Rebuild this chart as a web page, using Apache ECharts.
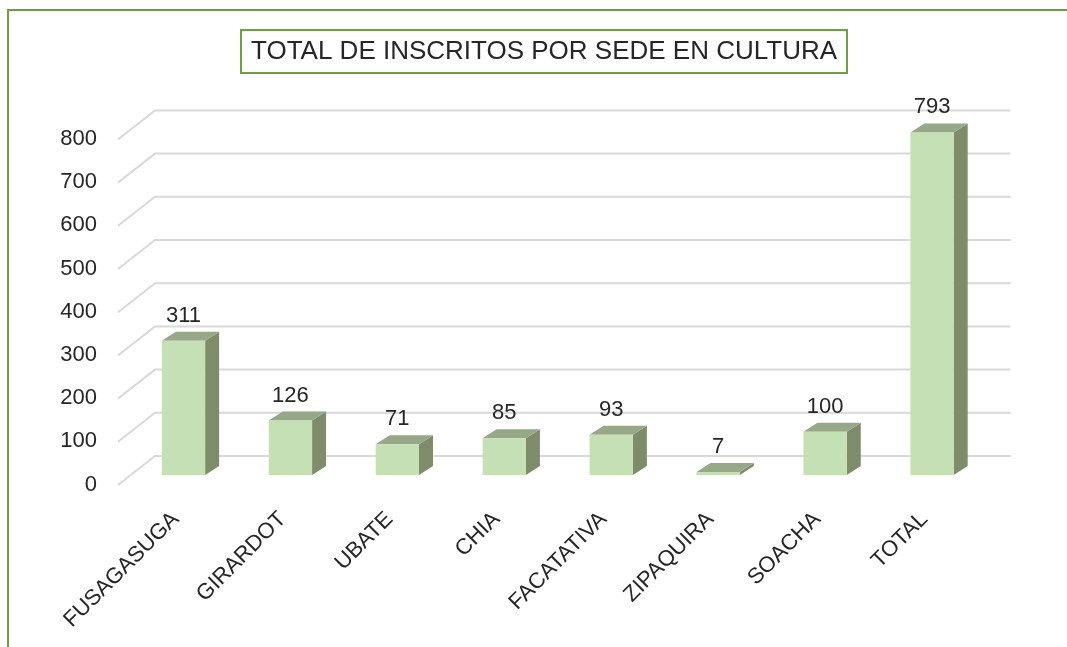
<!DOCTYPE html>
<html>
<head>
<meta charset="utf-8">
<script src="https://cdn.jsdelivr.net/npm/echarts@6/dist/echarts.min.js"></script>
<style>
  html, body { margin: 0; padding: 0; background: #fff; }
  #chart { width: 1067px; height: 647px; }
</style>
</head>
<body>
<div id="chart"></div>
<script>
// datos
var sedes = ["FUSAGASUGA", "GIRARDOT", "UBATE", "CHIA", "FACATATIVA", "ZIPAQUIRA", "SOACHA", "TOTAL"];
var inscritos = [311, 126, 71, 85, 93, 7, 100, 793];
var yTicks = [0, 100, 200, 300, 400, 500, 600, 700, 800];

var FONT = '"Liberation Sans", Arial, sans-serif';
var GREEN = "#6f9f45";
var FRONT = "#c5e0b4";
var SIDE = "#7f8c6c";
var TOP = "#97a888";
var TEXT = "#262626";

// offsets del "3D" respecto al plano frontal de las barras
var FLOOR_FRONT = [-12, 10];
var FLOOR_BACK = [25, -19];
var BAR_DEPTH = [14, -9];

function renderGridLine(params, api) {
  var cs = params.coordSys;
  var y = api.coord([0, api.value(1)])[1];
  return {
    type: "polyline",
    shape: {
      points: [
        [cs.x + FLOOR_FRONT[0], y + FLOOR_FRONT[1]],
        [cs.x + FLOOR_BACK[0], y + FLOOR_BACK[1]],
        [cs.x + cs.width + FLOOR_BACK[0], y + FLOOR_BACK[1]]
      ]
    },
    style: { stroke: "#d9d9d9", lineWidth: 2, fill: null }
  };
}

function renderBar(params, api) {
  var p0 = api.coord([api.value(0), 0]);
  var p1 = api.coord([api.value(0), api.value(1)]);
  var w = api.size([1, 0])[0] * 0.405;
  var l = p0[0] - w / 2, r = p0[0] + w / 2, b = p0[1], t = p1[1];
  var dx = BAR_DEPTH[0], dy = BAR_DEPTH[1];
  return {
    type: "group",
    children: [
      { type: "polygon", shape: { points: [[r, b], [r + dx, b + dy], [r + dx, t + dy], [r, t]] }, style: { fill: SIDE } },
      { type: "polygon", shape: { points: [[l, t], [r, t], [r + dx, t + dy], [l + dx, t + dy]] }, style: { fill: TOP } },
      { type: "rect", shape: { x: l, y: t, width: w, height: b - t }, style: { fill: FRONT } },
      {
        type: "text",
        x: p0[0],
        y: t - 25,
        style: {
          text: String(api.value(1)),
          fill: TEXT,
          font: "22px " + FONT,
          align: "center",
          verticalAlign: "middle"
        }
      }
    ]
  };
}

var chartDom = document.getElementById("chart");
var myChart = echarts.init(chartDom);
var option = {
  animation: false,
  title: {
    text: "TOTAL DE INSCRITOS POR SEDE EN CULTURA",
    left: 241,
    top: 30,
    padding: [7, 10],
    borderColor: GREEN,
    borderWidth: 2,
    textStyle: { fontFamily: FONT, fontSize: 26, fontWeight: "normal", color: TEXT, lineHeight: 29 }
  },
  graphic: [
    { type: "rect", shape: { x: 8, y: 10, width: 1200, height: 800 }, style: { fill: null, stroke: GREEN, lineWidth: 2 } }
  ],
  grid: [
    { left: 130, right: 81.5, top: 129.4, bottom: 172 },
    { left: 105, width: 10, top: 139, bottom: 162.4 }
  ],
  xAxis: [
    {
      type: "category",
      data: sedes,
      gridIndex: 0,
      axisLine: { show: false },
      axisTick: { show: false },
      axisLabel: {
        interval: 0,
        rotate: 45,
        margin: 33,
        padding: [0, 11, 0, 0],
        fontSize: 22,
        fontFamily: FONT,
        color: TEXT
      }
    },
    { type: "value", gridIndex: 1, show: false }
  ],
  yAxis: [
    { type: "value", gridIndex: 0, min: 0, max: 800, interval: 100, show: false, splitLine: { show: false } },
    {
      type: "value",
      gridIndex: 1,
      min: 0,
      max: 800,
      interval: 100,
      axisLine: { show: false },
      axisTick: { show: false },
      splitLine: { show: false },
      axisLabel: { margin: 8, fontSize: 22, fontFamily: FONT, color: TEXT }
    }
  ],
  series: [
    {
      type: "custom",
      xAxisIndex: 0,
      yAxisIndex: 0,
      renderItem: renderGridLine,
      data: yTicks.map(function (v) { return [0, v]; }),
      silent: true,
      z: 1
    },
    {
      type: "custom",
      xAxisIndex: 0,
      yAxisIndex: 0,
      renderItem: renderBar,
      data: inscritos.map(function (v, i) { return [i, v]; }),
      z: 2
    }
  ]
};

option && myChart.setOption(option);
</script>
</body>
</html>
